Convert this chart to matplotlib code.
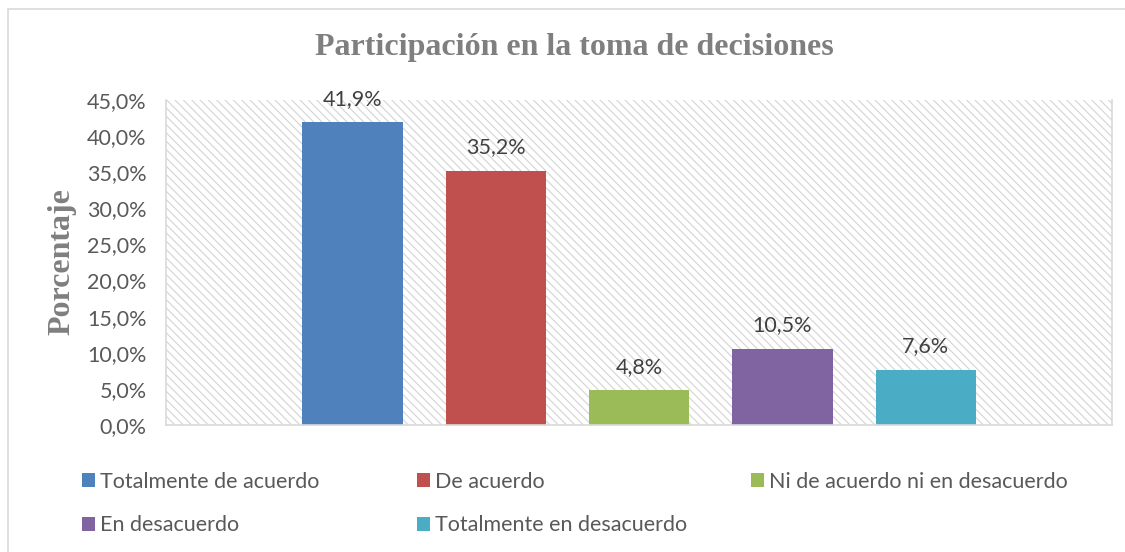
import matplotlib.pyplot as plt
from matplotlib.patches import Rectangle, Patch

# Data
categories = ['Totalmente de acuerdo', 'De acuerdo', 'Ni de acuerdo ni en desacuerdo',
              'En desacuerdo', 'Totalmente en desacuerdo']
values = [41.9, 35.2, 4.8, 10.5, 7.6]
colors = ['#4f81bd', '#c0504d', '#9bbb59', '#8064a2', '#4bacc6']
y_ticks = [0, 5, 10, 15, 20, 25, 30, 35, 40, 45]

W, H = 1125, 552
plt.rcParams['hatch.color'] = '#d4d4d4'
plt.rcParams['hatch.linewidth'] = 0.8

fig = plt.figure(figsize=(W / 100, H / 100), dpi=100)
fig.patch.set_facecolor('white')

# chart frame
fig.patches.append(Rectangle((8 / W, -0.1), 1.2, 1 - 9 / H + 0.1, transform=fig.transFigure,
                             fill=False, edgecolor='#d9d9d9', linewidth=1.2))

ax = fig.add_axes([166 / W, 1 - 425 / H, (1112 - 166) / W, (425 - 100) / H])
ax.patch.set_facecolor('white')
ax.patch.set_hatch('\\\\\\\\')
ax.patch.set_edgecolor('#d4d4d4')
ax.patch.set_linewidth(0)

x = list(range(len(values)))
bars = ax.bar(x, values, width=0.70, color=colors, zorder=2)
for xi, v in zip(x, values):
    ax.text(xi, v + 1.9, f'{v:.1f}%'.replace('.', ','), ha='center', va='bottom',
            fontsize=15.5, color='#404040', family='Lato')

ax.set_xlim(-1.30, 5.30)
ax.set_ylim(0, 45)
ax.set_yticks(y_ticks)
ax.set_yticklabels([f'{t:.1f}%'.replace('.', ',') for t in y_ticks],
                   fontsize=15.5, color='#595959', family='Lato')
ax.set_xticks([])
ax.tick_params(axis='y', length=0, pad=14)
for s in ['left', 'bottom', 'right']:
    ax.spines[s].set_color('#d9d9d9')
    ax.spines[s].set_linewidth(1.2)
ax.spines['top'].set_visible(False)

fig.text(574 / W, 1 - 48 / H, 'Participación en la toma de decisiones', ha='center', va='center',
         fontsize=23, fontweight='bold', color='#7f7f7f', family='Liberation Serif')
fig.text(62 / W, 1 - 262 / H, 'Porcentaje', ha='center', va='center', rotation=90,
         fontsize=23, fontweight='bold', color='#7f7f7f', family='Liberation Serif')

# legend in three columns, row-major like the reference
cols = [[0, 3], [1, 4], [2]]
col_x = [71, 406, 740]
for xs, idx in zip(col_x, cols):
    handles = [Patch(facecolor=colors[i], label=categories[i]) for i in idx]
    leg = fig.legend(handles=handles, loc='upper left', bbox_to_anchor=(xs / W, 1 - 461 / H),
                     frameon=False, prop={'family': 'Lato', 'size': 15.5}, handlelength=0.62,
                     handleheight=0.62, handletextpad=0.25, labelspacing=1.1, borderpad=0)
    for t in leg.get_texts():
        t.set_color('#595959')

fig.savefig('out.png', dpi=100)
